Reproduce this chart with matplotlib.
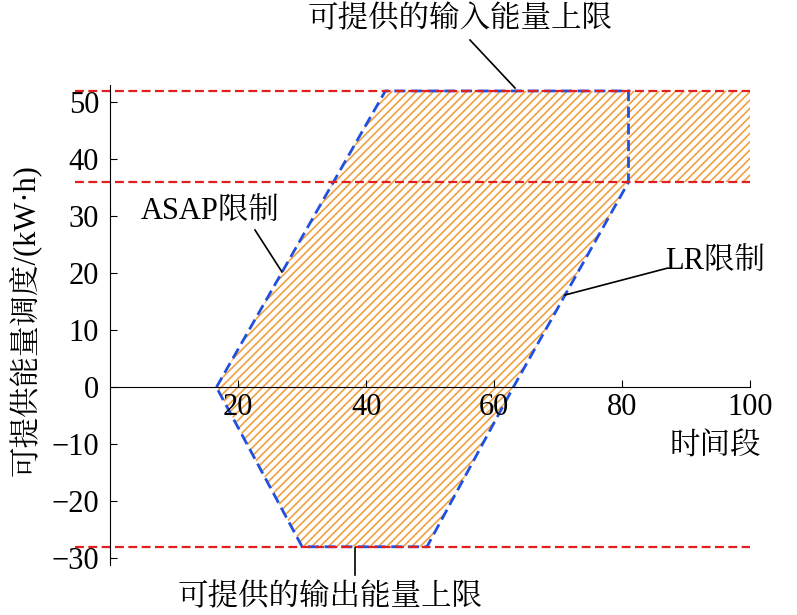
import matplotlib
matplotlib.use("Agg")
import matplotlib.pyplot as plt
from matplotlib.patches import Polygon

plt.rcParams['font.family'] = ['Liberation Serif', 'Noto Serif CJK SC', 'Noto Sans CJK SC']
plt.rcParams['hatch.color'] = '#f0a040'
plt.rcParams['hatch.linewidth'] = 1.2

# data
poly_x = [16.6, 43, 81, 81, 63, 49.5, 30]
poly_y = [0, 52, 52, 36, 0, -28, -28]
band_x = [81, 100, 100, 81]
band_y = [52, 52, 36, 36]
limits = [52, 36, -28]
xticks = [20, 40, 60, 80, 100]
yticks = [-30, -20, -10, 0, 10, 20, 30, 40, 50]

W, H = 797, 615
fig = plt.figure(figsize=(W/100, H/100), dpi=100)
ax = fig.add_axes([75/W, 1-565/H, (752-75)/W, (565-75)/H])
ax.set_xlim(-5.5, 100.3)
ax.set_ylim(-31.2, 54.8)

ax.add_patch(Polygon(list(zip(band_x, band_y)), closed=True, facecolor='none',
                     edgecolor='#f0a040', hatch='////', lw=0))
ax.add_patch(Polygon(list(zip(poly_x, poly_y)), closed=True, facecolor='none',
                     edgecolor='#f0a040', hatch='////', lw=0))
ax.add_patch(Polygon(list(zip(poly_x, poly_y)), closed=True, facecolor='none',
                     edgecolor='#2050e0', ls=(0, (4, 2)), lw=2))
for yv in limits:
    ax.plot([-5.5, 100], [yv, yv], color='#e02020', ls=(0, (4, 2)), lw=1.6)

for s in ['top', 'right']:
    ax.spines[s].set_visible(False)
ax.spines['left'].set_position(('data', 0))
ax.spines['bottom'].set_position(('data', 0))
ax.spines['left'].set_bounds(-31.2, 53)
ax.spines['bottom'].set_bounds(0, 100)
ax.set_xticks(xticks)
ax.set_yticks(yticks)
ax.tick_params(labelsize=22, direction='in', length=5)
ax.tick_params(axis='y', pad=8)
ax.tick_params(axis='x', pad=4)

fs = 22
fig.text(715/W, 1-447/H, '时间段', fontsize=fs, ha='center', va='center')
fig.text(25/W, 1-320/H, '可提供能量调度/(kW·h)', fontsize=fs, rotation=90, ha='center', va='center')
fig.text(460/W, 1-20/H, '可提供的输入能量上限', fontsize=fs, ha='center', va='center')
fig.text(210/W, 1-212/H, 'ASAP限制', fontsize=fs, ha='center', va='center')
fig.text(715/W, 1-262/H, 'LR限制', fontsize=fs, ha='center', va='center')
fig.text(330/W, 1-598/H, '可提供的输出能量上限', fontsize=fs, ha='center', va='center')

def fl(x1, y1, x2, y2):
    fig.add_artist(plt.Line2D([x1/W, x2/W], [1-y1/H, 1-y2/H], color='black', lw=1.2))
fl(470, 40, 515, 88)
fl(255, 230, 282, 272)
fl(668, 268, 565, 295)
fl(355, 575, 355, 548)

fig.savefig('out.png', dpi=100)
